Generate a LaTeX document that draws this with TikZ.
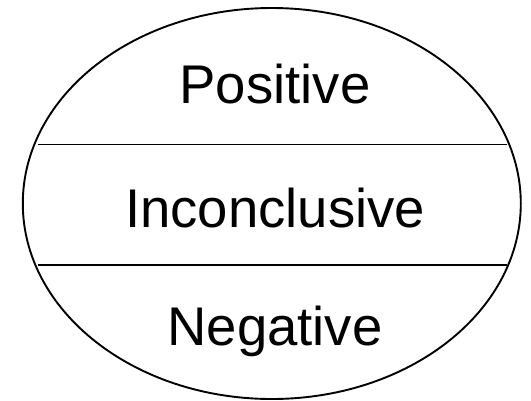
\documentclass[tikz,border=0pt]{standalone}
\usepackage{fontspec}
\setmainfont{Liberation Sans}
\begin{document}
\begin{tikzpicture}[x=1pt,y=-1pt,
  outline/.style={line width=1.9pt, draw=black},
  label/.style={anchor=base, inner sep=0pt, font=\fontsize{54.5}{60}\selectfont}]
\useasboundingbox (0,0) rectangle (531,400);
\coordinate (c) at (271.8,203.5);
\draw[outline] (c) ellipse [x radius=249pt, y radius=195.5pt];
\coordinate (l1a) at (37.5,144.5);
\coordinate (l1b) at (506.5,144.5);
\coordinate (l2a) at (37.5,265);
\coordinate (l2b) at (506.5,265);
\draw[outline] (l1a) -- (l1b);
\draw[outline] (l2a) -- (l2b);
\node[label] (pos) at (275,103) {Positive};
\node[label] (inc) at (275,227) {Inconclusive};
\node[label] (neg) at (275,345) {Negative};
\end{tikzpicture}
\end{document}
